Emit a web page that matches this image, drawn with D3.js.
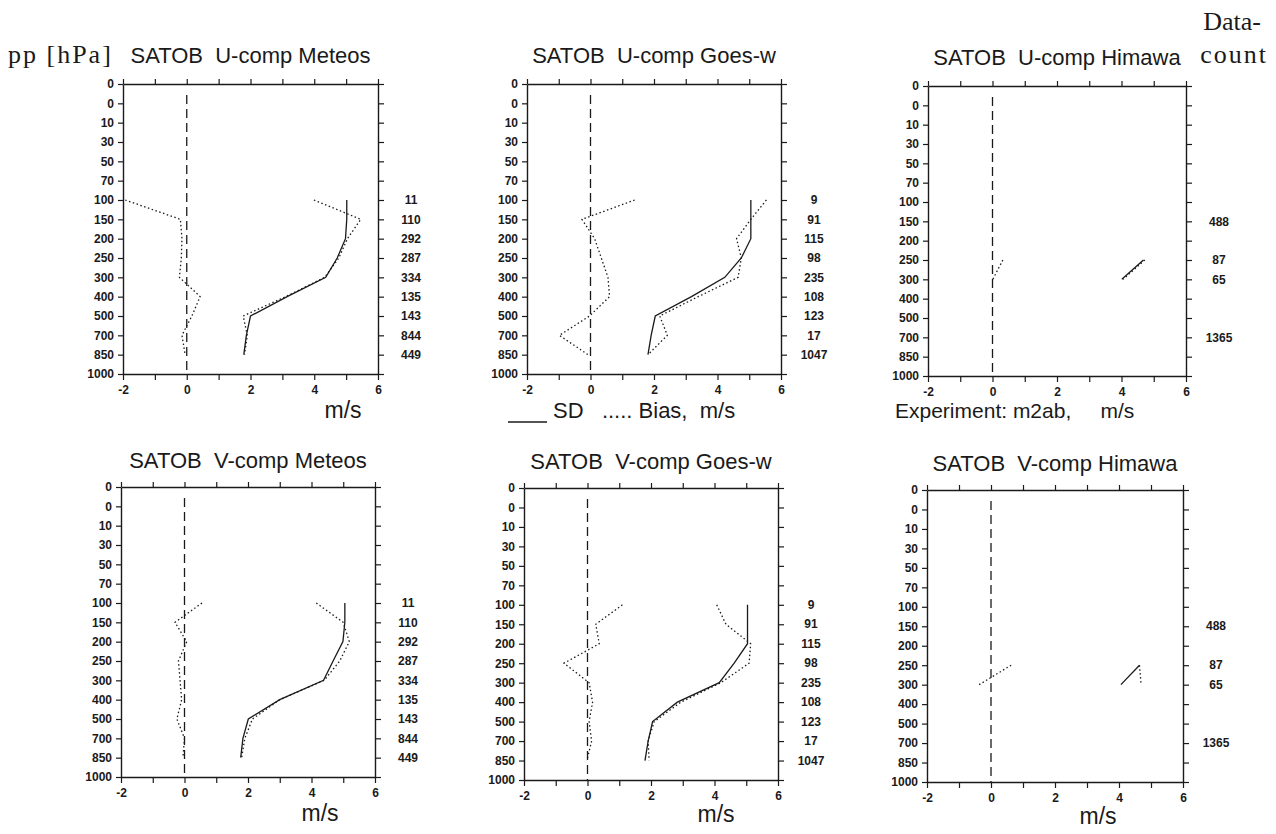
<!DOCTYPE html>
<html>
<head>
<meta charset="utf-8">
<script src="https://cdn.jsdelivr.net/npm/d3@7"></script>
<style>
  body { margin: 0; background: #fff; }
  svg { display: block; }
  .tick text { font-family: "Liberation Sans", Arial, sans-serif; font-size: 12px; font-weight: bold; fill: #1a1a1a; }
  .tick line, .domain { stroke: #1a1a1a; }
  text { white-space: pre; }
</style>
</head>
<body>
<div class="vis"></div>
<script>
// pressure levels on the y axis (evenly spaced, top to bottom)
const levelLabels = ['0', '0', '10', '30', '50', '70', '100', '150', '200', '250', '300', '400', '500', '700', '850', '1000'];
const dataLevels = ['100', '150', '200', '250', '300', '400', '500', '700', '850'];
const xTicks = [-2, -1, 0, 1, 2, 3, 4, 5, 6];

// U-comp Meteosat
const uMetSd = [5.02, 5.02, 4.98, 4.72, 4.36, 3.15, 2.0, 1.87, 1.79];
const uMetSd2 = [3.99, 5.46, 5.04, 4.77, 4.33, 3.1, 1.77, 1.9, 1.81];
const uMetBias = [-1.93, -0.2, -0.15, -0.17, -0.23, 0.42, 0.16, -0.15, -0.05];
const metCount = [11, 110, 292, 287, 334, 135, 143, 844, 449];

// U-comp Goes-w
const uGoesSd = [5.05, 5.05, 5.05, 4.75, 4.23, 3.18, 2.04, 1.91, 1.81];
const uGoesSd2 = [5.54, 5.05, 4.6, 4.75, 4.65, 3.39, 2.18, 2.42, 1.81];
const uGoesBias = [1.39, -0.27, 0.13, 0.34, 0.55, 0.6, -0.03, -0.98, -0.08];
const goesCount = [9, 91, 115, 98, 235, 108, 123, 17, 1047];

// U-comp Himawari
const uHimSd = [null, null, null, 4.68, 4.01, null, null, null, null];
const uHimSd2 = [null, null, null, 4.72, 4.05, null, null, null, null];
const uHimBias = [null, null, null, 0.32, 0.01, null, null, null, null];
const himCount = [null, 488, null, 87, 65, null, null, 1365, null];

// V-comp Meteosat
const vMetSd = [5.05, 5.05, 4.99, 4.68, 4.38, 3.0, 2.01, 1.84, 1.77];
const vMetSd2 = [4.15, 5.0, 5.19, 4.89, 4.4, 3.0, 2.14, 1.9, 1.8];
const vMetBias = [0.55, -0.3, 0.07, -0.19, -0.14, -0.09, -0.24, 0.0, -0.05];

// V-comp Goes-w
const vGoesSd = [5.04, 5.04, 5.04, 4.62, 4.15, 2.83, 2.05, 1.91, 1.81];
const vGoesSd2 = [4.07, 4.36, 5.14, 5.09, 4.2, 2.94, 2.1, 1.91, 1.94];
const vGoesBias = [1.1, 0.26, 0.37, -0.74, 0.05, 0.16, 0.05, 0.13, -0.02];

// V-comp Himawari
const vHimSd = [null, null, null, 4.64, 4.06, null, null, null, null];
const vHimSd2 = [null, null, null, 4.64, 4.69, null, null, null, null];
const vHimBias = [null, null, null, 0.63, -0.37, null, null, null, null];

const titles = ['SATOB  U-comp Meteos', 'SATOB  U-comp Goes-w', 'SATOB  U-comp Himawa',
                'SATOB  V-comp Meteos', 'SATOB  V-comp Goes-w', 'SATOB  V-comp Himawa'];

const panels = [
  { title: titles[0], sd: uMetSd, sd2: uMetSd2, bias: uMetBias, count: metCount },
  { title: titles[1], sd: uGoesSd, sd2: uGoesSd2, bias: uGoesBias, count: goesCount },
  { title: titles[2], sd: uHimSd, sd2: uHimSd2, bias: uHimBias, count: himCount },
  { title: titles[3], sd: vMetSd, sd2: vMetSd2, bias: vMetBias, count: metCount },
  { title: titles[4], sd: vGoesSd, sd2: vGoesSd2, bias: vGoesBias, count: goesCount },
  { title: titles[5], sd: vHimSd, sd2: vHimSd2, bias: vHimBias, count: himCount }
];

// box of each panel on the page (scan is slightly irregular)
const boxes = [
  { x: 123, y: 84, w: 255, h: 290, titleY: 63, unitX: 343, unitY: 418 },
  { x: 527, y: 84, w: 254, h: 290, titleY: 63, unitX: null, unitY: null },
  { x: 928, y: 86, w: 258, h: 290, titleY: 65, unitX: null, unitY: null },
  { x: 121, y: 487, w: 254, h: 290, titleY: 468, unitX: 320, unitY: 821 },
  { x: 524, y: 488, w: 254, h: 292, titleY: 469, unitX: 716, unitY: 822 },
  { x: 927, y: 490, w: 256, h: 292, titleY: 471, unitX: 1098, unitY: 824 }
];

const width = 1276;
const height = 834;
const sans = '"Liberation Sans", Arial, sans-serif';
const serif = '"Liberation Serif", "DejaVu Serif", serif';
const ink = '#1a1a1a';

const svg = d3.select('.vis').append('svg').attr('width', width).attr('height', height);

panels.forEach((p, k) => {
  const b = boxes[k];
  const g = svg.append('g').attr('transform', `translate(${b.x},${b.y})`);

  const xScale = d3.scaleLinear().domain([-2, 6]).range([0, b.w]);
  const yScale = d3.scalePoint().domain(d3.range(levelLabels.length)).range([0, b.h]);
  const yOf = lev => yScale(levelLabels.lastIndexOf(lev));

  const yLeft = d3.axisLeft(yScale).tickSize(5).tickPadding(4).tickSizeOuter(0)
    .tickFormat(i => levelLabels[i]);
  const yRight = d3.axisRight(yScale).tickSize(6).tickSizeOuter(0).tickFormat('');
  const xBottom = d3.axisBottom(xScale).tickValues(xTicks).tickSize(6).tickPadding(5).tickSizeOuter(0)
    .tickFormat(d => d % 2 === 0 ? d : '');
  const xTop = d3.axisTop(xScale).tickValues(xTicks).tickSize(5).tickSizeOuter(0).tickFormat('');

  g.append('g').call(yLeft);
  g.append('g').attr('transform', `translate(${b.w},0)`).call(yRight);
  g.append('g').attr('transform', `translate(0,${b.h})`).call(xBottom);
  g.append('g').call(xTop);
  g.selectAll('.domain').attr('stroke-width', 1.4);
  g.selectAll('.tick line').attr('stroke-width', 1.2);

  // zero reference line
  g.append('line')
    .attr('x1', xScale(0)).attr('x2', xScale(0))
    .attr('y1', 11).attr('y2', b.h)
    .attr('stroke', ink).attr('stroke-width', 1.3)
    .attr('stroke-dasharray', '9,5');

  const line = vals => d3.line()
    .defined((d, i) => vals[i] !== null)
    .x((d, i) => xScale(vals[i]))
    .y(d => yOf(d))(dataLevels);

  g.append('path').attr('d', line(p.sd2))
    .attr('fill', 'none').attr('stroke', ink).attr('stroke-width', 1.3)
    .attr('stroke-dasharray', '1.5,2.5');
  g.append('path').attr('d', line(p.bias))
    .attr('fill', 'none').attr('stroke', ink).attr('stroke-width', 1.3)
    .attr('stroke-dasharray', '1.5,2.5');
  g.append('path').attr('d', line(p.sd))
    .attr('fill', 'none').attr('stroke', ink).attr('stroke-width', 1.3);

  // data counts right of the panel
  g.selectAll('text.count').data(dataLevels.filter((d, i) => p.count[i] !== null))
    .enter().append('text')
    .attr('class', 'count')
    .attr('x', b.w + 33)
    .attr('y', d => yOf(d))
    .attr('dy', '0.35em')
    .attr('text-anchor', 'middle')
    .style('font-family', sans).style('font-size', '12px').style('font-weight', 'bold').attr('fill', ink)
    .text(d => p.count[dataLevels.indexOf(d)]);

  // title
  svg.append('text')
    .attr('x', b.x + b.w / 2).attr('y', b.titleY)
    .attr('text-anchor', 'middle')
    .style('font-family', sans).style('font-size', '22px').attr('fill', ink)
    .text(p.title);

  if (b.unitX !== null) {
    svg.append('text')
      .attr('x', b.unitX).attr('y', b.unitY)
      .attr('text-anchor', 'middle')
      .style('font-family', sans).style('font-size', '23px').attr('fill', ink)
      .text('m/s');
  }
});

// page labels
svg.append('text').attr('x', 8).attr('y', 63)
  .style('font-family', serif).style('font-size', '26px').style('letter-spacing', '2px').attr('fill', ink)
  .text('pp [hPa]');
svg.append('text').attr('x', 1261).attr('y', 30).attr('text-anchor', 'end')
  .style('font-family', serif).style('font-size', '26px').attr('fill', ink)
  .text('Data-');
svg.append('text').attr('x', 1268).attr('y', 63).attr('text-anchor', 'end')
  .style('font-family', serif).style('font-size', '26px').style('letter-spacing', '2px').attr('fill', ink)
  .text('count');

// legend
svg.append('line').attr('x1', 508).attr('x2', 547).attr('y1', 422).attr('y2', 422)
  .attr('stroke', ink).attr('stroke-width', 1.5);
svg.append('text').attr('x', 553).attr('y', 418)
  .style('font-family', sans).style('font-size', '22px').attr('fill', ink)
  .text('SD   ..... Bias,  m/s');
svg.append('text').attr('x', 895).attr('y', 418)
  .style('font-family', sans).style('font-size', '21px').attr('fill', ink)
  .text('Experiment: m2ab,     m/s');
</script>
</body>
</html>
